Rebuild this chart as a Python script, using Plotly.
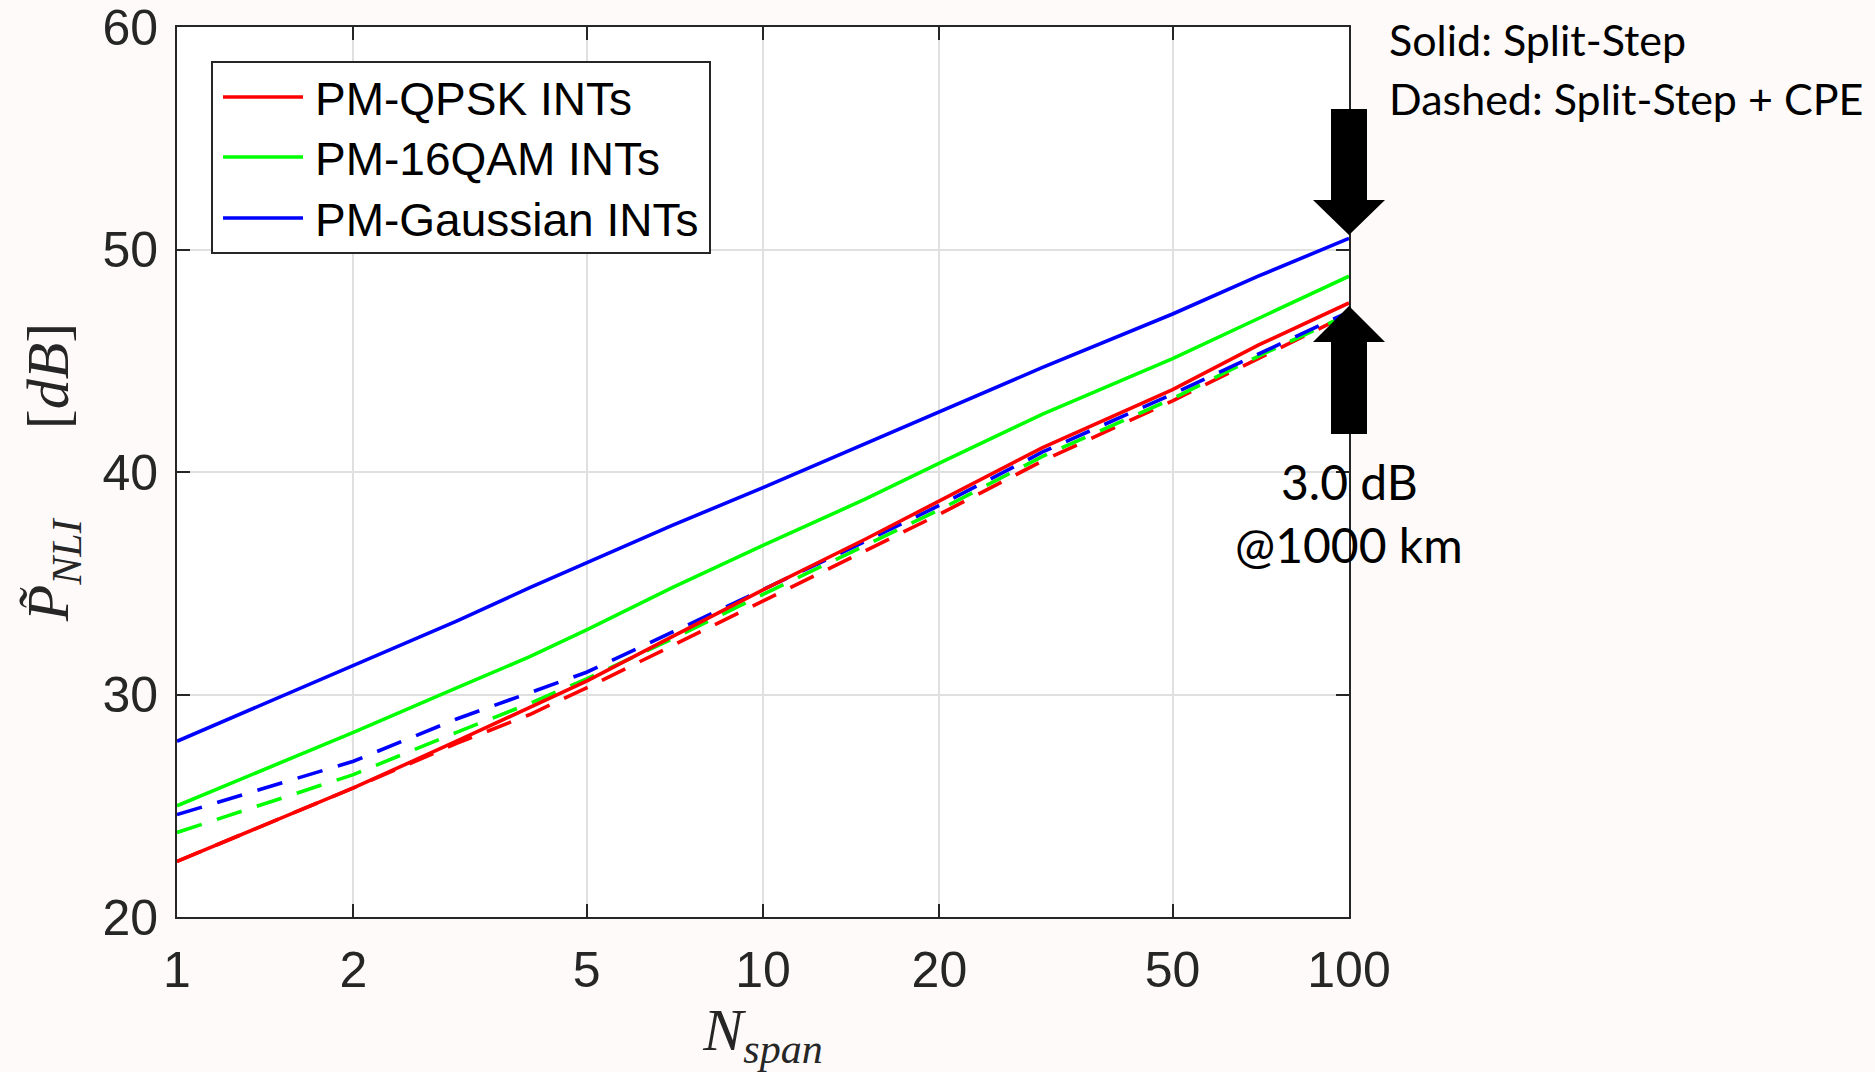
import plotly.graph_objects as go

# ---- data ----
n_span = [1, 2, 3, 4, 5, 7, 10, 15, 20, 30, 50, 70, 100]

qpsk_ss = [22.5, 25.8, 27.9, 29.4, 30.6, 32.6, 34.7, 37.0, 38.7, 41.1, 43.7, 45.7, 47.6]
qam16_ss = [25.0, 28.3, 30.3, 31.7, 32.9, 34.8, 36.7, 38.8, 40.4, 42.6, 45.1, 46.9, 48.8]
gauss_ss = [27.9, 31.3, 33.3, 34.8, 35.9, 37.6, 39.3, 41.3, 42.7, 44.7, 47.1, 48.8, 50.5]

qpsk_cpe = [22.5, 25.8, 27.8, 29.1, 30.3, 32.2, 34.2, 36.5, 38.1, 40.5, 43.2, 45.1, 47.1]
qam16_cpe = [23.8, 26.4, 28.3, 29.6, 30.7, 32.5, 34.5, 36.7, 38.3, 40.7, 43.3, 45.2, 47.1]
gauss_cpe = [24.6, 27.0, 28.9, 30.1, 31.0, 32.8, 34.7, 36.9, 38.5, 40.9, 43.5, 45.3, 47.2]

series_names = ["PM-QPSK INTs", "PM-16QAM INTs", "PM-Gaussian INTs"]
series_colors = ["#ff0000", "#00ff00", "#0000ff"]

x_ticks = [1, 2, 5, 10, 20, 50, 100]
y_ticks = [20, 30, 40, 50, 60]

# ---- figure ----
W, H = 1875, 1072
L, R, T, B = 177, 526, 27, 155
pw, ph = W - L - R, H - T - B


def px2px(xpix):
    return (xpix - L) / pw


def px2py(ypix):
    return (H - B - ypix) / ph


fig = go.Figure()
solid = [qpsk_ss, qam16_ss, gauss_ss]
dashed = [qpsk_cpe, qam16_cpe, gauss_cpe]

for ys, name, col in zip(dashed, series_names, series_colors):
    fig.add_trace(go.Scatter(x=n_span, y=ys, mode="lines", name=name + " (CPE)",
                             line=dict(color=col, width=3.6, dash="26px,16px"),
                             showlegend=False))
for ys, name, col in zip(solid, series_names, series_colors):
    fig.add_trace(go.Scatter(x=n_span, y=ys, mode="lines", name=name,
                             line=dict(color=col, width=3.6), showlegend=False))

axis_common = dict(showline=True, linecolor="#262626", linewidth=2, mirror="allticks",
                   ticks="inside", ticklen=13, tickwidth=2, tickcolor="#262626",
                   showgrid=True, gridcolor="#e0e0e0", gridwidth=1.5, zeroline=False,
                   automargin=False, ticklabeloverflow="allow",
                   tickfont=dict(family="Liberation Sans, Arial", size=50, color="#262626"))

fig.update_xaxes(type="log", range=[0, 2], tickvals=x_ticks, ticktext=[str(v) for v in x_ticks],
                 ticklabelstandoff=8,
                 title=dict(text="<i>N</i><sub><i>span</i></sub>",
                            font=dict(family="Liberation Serif, DejaVu Serif", size=60, color="#262626"),
                            standoff=12),
                 **axis_common)
fig.update_yaxes(range=[20, 60], tickvals=y_ticks, ticktext=[str(v) for v in y_ticks],
                 ticklabelstandoff=7,
                 title=dict(text="<i>P\u0303</i><sub><i>NLI</i></sub>\u2003\u2002[<i>dB</i>]",
                            font=dict(family="Liberation Serif, DejaVu Serif", size=60, color="#262626"),
                            standoff=14),
                 **axis_common)

# ---- legend box (drawn with shapes so the sample lines match) ----
fig.add_shape(type="rect", xref="paper", yref="paper",
              x0=px2px(212), x1=px2px(710), y0=px2py(253), y1=px2py(62),
              fillcolor="white", line=dict(color="#262626", width=2), layer="above")
legend_rows = [99, 159, 220]
for name, col, yp in zip(series_names, series_colors, legend_rows):
    fig.add_shape(type="line", xref="paper", yref="paper",
                  x0=px2px(223), x1=px2px(303), y0=px2py(yp - 2), y1=px2py(yp - 2),
                  line=dict(color=col, width=3.6), layer="above")
    fig.add_annotation(x=px2px(313), y=px2py(yp), xref="paper", yref="paper", text=name,
                       showarrow=False, xanchor="left", yanchor="middle",
                       font=dict(family="Liberation Sans, Arial", size=46, color="black"))

# arrows marking the 3.0 dB gap at N_span = 100 (paper coordinates)
sw = 18 / pw   # shaft half-width
hw = 36 / pw   # head half-width
xc = 1.0
down = (f"M {xc-sw},{px2py(109)} L {xc+sw},{px2py(109)} L {xc+sw},{px2py(200)} "
        f"L {xc+hw},{px2py(200)} L {xc},{px2py(235)} L {xc-hw},{px2py(200)} "
        f"L {xc-sw},{px2py(200)} Z")
up = (f"M {xc-sw},{px2py(434)} L {xc+sw},{px2py(434)} L {xc+sw},{px2py(342)} "
      f"L {xc+hw},{px2py(342)} L {xc},{px2py(306)} L {xc-hw},{px2py(342)} "
      f"L {xc-sw},{px2py(342)} Z")
for p in (down, up):
    fig.add_shape(type="path", path=p, xref="paper", yref="paper",
                  fillcolor="black", line=dict(color="black", width=0), layer="above")

big_font = dict(family="Lato, Open Sans, sans-serif", size=48, color="black")
txt_font = dict(family="Lato, Open Sans, sans-serif", size=43, color="black")
fig.add_annotation(x=xc, y=px2py(481), xref="paper", yref="paper", text="3.0 dB",
                   showarrow=False, font=big_font, xanchor="center", yanchor="middle")
fig.add_annotation(x=xc, y=px2py(544), xref="paper", yref="paper", text="@1000 km",
                   showarrow=False, font=big_font, xanchor="center", yanchor="middle")
fig.add_annotation(x=px2px(1387), y=px2py(40), xref="paper", yref="paper",
                   text="Solid: Split-Step", showarrow=False, font=txt_font,
                   xanchor="left", yanchor="middle")
fig.add_annotation(x=px2px(1387), y=px2py(98), xref="paper", yref="paper",
                   text="Dashed: Split-Step + CPE", showarrow=False, font=txt_font,
                   xanchor="left", yanchor="middle")

fig.update_layout(
    width=W, height=H,
    margin=dict(l=L, r=R, t=T, b=B, autoexpand=False),
    paper_bgcolor="#fdfaf9", plot_bgcolor="white",
    showlegend=False,
)

fig.write_html("out.html")
